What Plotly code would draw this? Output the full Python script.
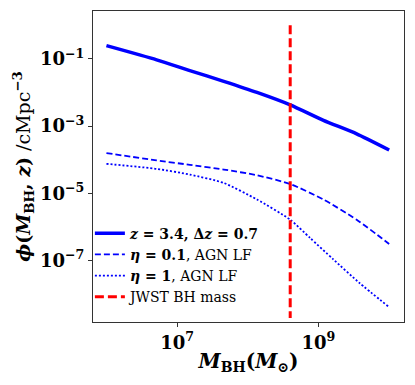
import plotly.graph_objects as go

# log10 values
logm_solid = [6.0, 6.71, 7.18, 7.66, 8.13, 8.6, 9.07, 9.54, 10.0]
logphi_solid = [-0.61, -1.03, -1.35, -1.67, -2.0, -2.37, -2.83, -3.23, -3.71]

logm_dash = [6.0, 6.71, 7.18, 7.66, 8.13, 8.6, 9.07, 9.54, 9.9, 10.0]
logphi_dash = [-3.80, -4.02, -4.15, -4.29, -4.46, -4.72, -5.18, -5.78, -6.34, -6.50]

logm_dot = [6.0, 6.71, 7.18, 7.66, 8.13, 8.6, 8.88, 9.21, 9.58, 10.0]
logphi_dot = [-4.12, -4.27, -4.44, -4.69, -5.18, -5.78, -6.32, -6.96, -7.66, -8.38]

jwst_logm = 8.6
jwst_logphi = [0.0, -8.7]

xticks = [1e7, 1e9]
xticklabels = ["<b>10<sup>7</sup></b>", "<b>10<sup>9</sup></b>"]
yticks = [1e-1, 1e-3, 1e-5, 1e-7]
yticklabels = ["<b>10<sup>−1</sup></b>", "<b>10<sup>−3</sup></b>",
               "<b>10<sup>−5</sup></b>", "<b>10<sup>−7</sup></b>"]

def p10(v):
    return [10 ** a for a in v]

fig = go.Figure()
fig.add_trace(go.Scatter(x=p10(logm_solid), y=p10(logphi_solid), mode="lines",
                         name="<b><i>z</i> = 3.4, Δ<i>z</i> = 0.7</b>",
                         line=dict(color="blue", width=3.5, shape="spline", smoothing=0.6)))
fig.add_trace(go.Scatter(x=p10(logm_dash), y=p10(logphi_dash), mode="lines",
                         name="<b><i>η</i> = 0.1</b>, AGN LF",
                         line=dict(color="blue", width=1.8, dash="6px,3px",
                                   shape="spline", smoothing=0.6)))
fig.add_trace(go.Scatter(x=p10(logm_dot), y=p10(logphi_dot), mode="lines",
                         name="<b><i>η</i> = 1</b>, AGN LF",
                         line=dict(color="blue", width=1.8, dash="2px,2px",
                                   shape="spline", smoothing=0.6)))
fig.add_trace(go.Scatter(x=p10([jwst_logm, jwst_logm]), y=p10(jwst_logphi), mode="lines",
                         name="JWST BH mass",
                         line=dict(color="red", width=3, dash="9px,4px")))

axis_common = dict(type="log", showgrid=False, zeroline=False, showline=True,
                   linecolor="#333", linewidth=1, mirror=True, ticks="outside",
                   ticklen=4, tickcolor="#333", automargin=False,
                   tickfont=dict(family="DejaVu Serif", size=18, color="black"))

fig.update_xaxes(**axis_common, range=[5.81, 10.21], tickvals=xticks, ticktext=xticklabels,
                 title=dict(text="<b><i>M</i><sub>BH</sub>(<i>M</i><sub>⊙</sub>)</b>",
                            font=dict(family="DejaVu Serif", size=20, color="black"),
                            standoff=2))
fig.update_yaxes(**axis_common, range=[-8.82, 0.42], tickvals=yticks, ticktext=yticklabels,
                 title=dict(text="<b><i>ϕ</i>(<i>M</i><sub>BH</sub>, <i>z</i>)</b> /cMpc<sup><b>−3</b></sup>",
                            font=dict(family="DejaVu Serif", size=19, color="black"),
                            standoff=4))

# the page body has an 8px margin, so the margins are shifted to compensate
fig.update_layout(
    width=415, height=385,
    margin=dict(l=85, r=19, t=3, b=71),
    plot_bgcolor="white", paper_bgcolor="white",
    font=dict(family="DejaVu Serif", color="black"),
    legend=dict(x=-0.01, y=0.03, xanchor="left", yanchor="bottom",
                bgcolor="rgba(0,0,0,0)", font=dict(family="DejaVu Serif", size=14),
                tracegroupgap=0, itemwidth=30),
)

fig.write_html("out.html")
